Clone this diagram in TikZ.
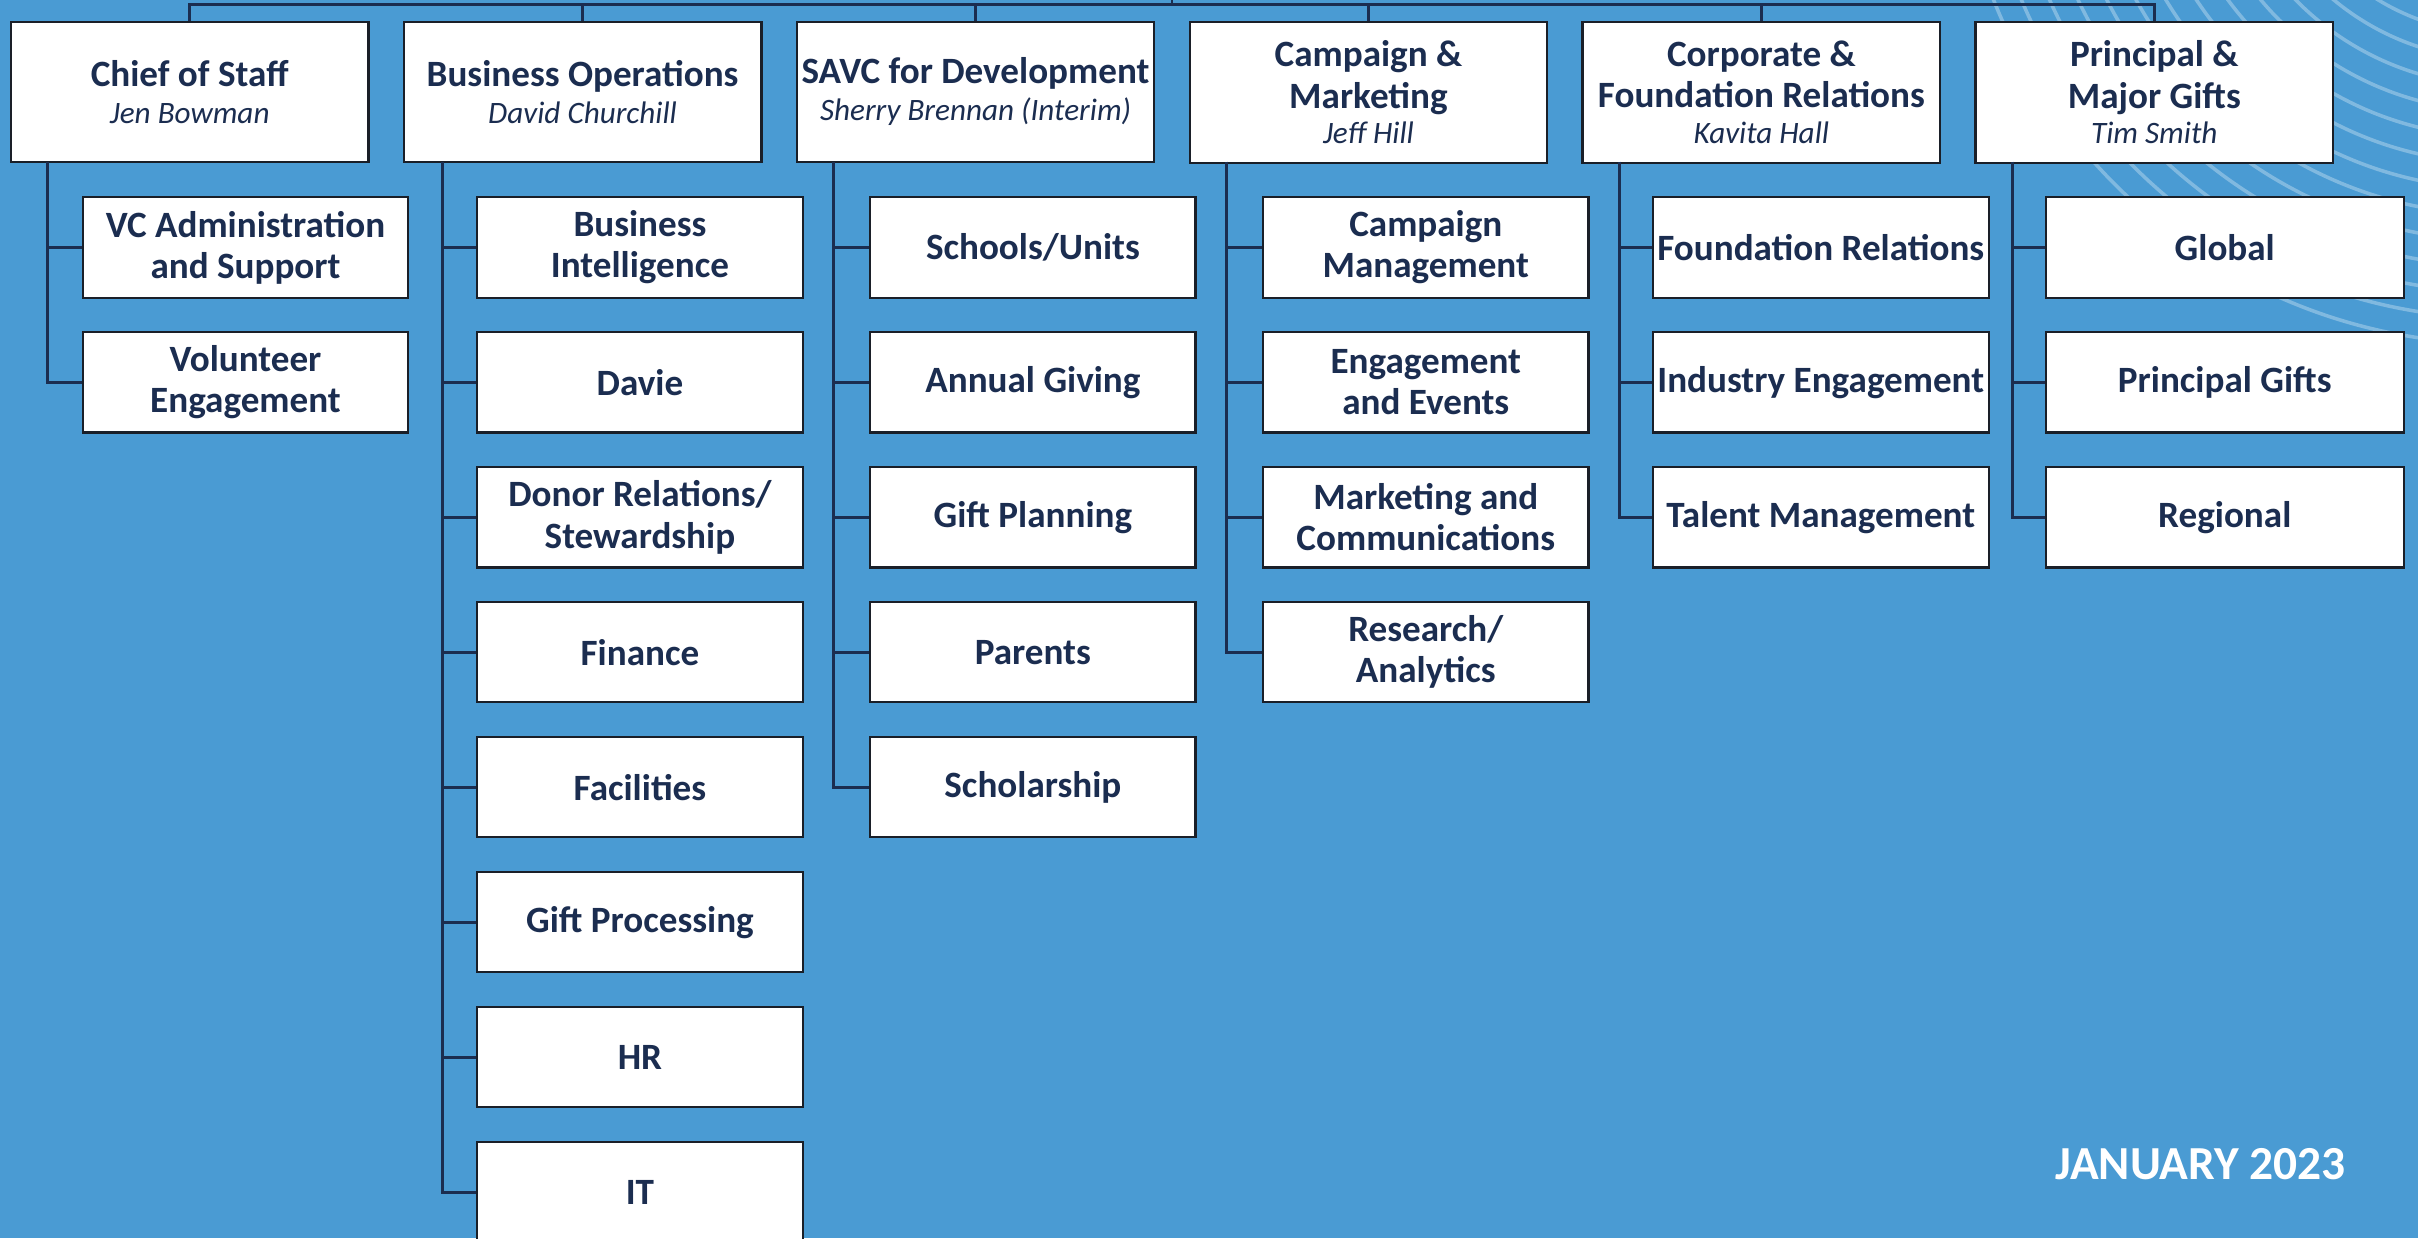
\documentclass[tikz,border=0pt]{standalone}
\usepackage{fontspec}
\setmainfont{Carlito}
\definecolor{bg}{HTML}{4A9BD3}
\definecolor{navy}{HTML}{1B2D50}
\definecolor{boxline}{HTML}{1A1F28}
\newcommand\pname[1]{{\fontsize{11.5}{14}\selectfont\mdseries\itshape #1}}
\tikzset{
  head/.style={draw=boxline, line width=0.8pt, fill=white, minimum width=4.64cm, minimum height=1.82cm,
    inner sep=0pt, align=center, text=navy, font=\fontsize{13.7}{15.2}\selectfont\bfseries},
  unit/.style={draw=boxline, line width=0.8pt, fill=white, minimum width=4.22cm, minimum height=1.30cm,
    inner sep=0pt, align=center, text=navy, anchor=west, font=\fontsize{13.7}{15.2}\selectfont\bfseries},
  conn/.style={draw=navy, line width=1.1pt},
  arc/.style={draw=white, opacity=0.3, line width=1.3pt}
}
\begin{document}
\begin{tikzpicture}[x=0.02cm, y=-0.02cm]
\fill[bg] (0,0) rectangle (1568,803);
\useasboundingbox (0,0) rectangle (1568,803);
% decorative arcs
\begin{scope}
  \clip (0,0) rectangle (1568,803);
  \foreach \i in {0,...,12}
    \draw[arc] (1621,-130) circle[radius={3.04cm+0.335cm*\i}];
\end{scope}
% heads
\node[head] (h1) at (123,59.5) {Chief of Staff\\[-1.5pt]\pname{Jen Bowman}};
\node[head] (h2) at (377.8,59.5) {Business Operations\\[-1.5pt]\pname{David Churchill}};
\node[head] (h3) at (632.6,59.5) {SAVC for Development\\[-1.5pt]\pname{Sherry Brennan (Interim)}};
\node[head] (h4) at (887.4,60) {Campaign \&\\Marketing\\[-2pt]\pname{Jeff Hill}};
\node[head] (h5) at (1142.2,60) {Corporate \&\\Foundation Relations\\[-2pt]\pname{Kavita Hall}};
\node[head] (h6) at (1397,60) {Principal \&\\Major Gifts\\[-2pt]\pname{Tim Smith}};
% top bus
\coordinate (bus) at (760,3);
\coordinate (up) at (760,-5);
\draw[conn] (h1.north) |- (h6.north |- bus) -- (h6.north);
\foreach \h in {h2,h3,h4,h5} \draw[conn] (\h.north) -- (\h.north |- bus);
\draw[conn] (bus) -- (up);
% branch points
\coordinate (b1) at (31,105);
\coordinate (b2) at (286.8,105);
\coordinate (b3) at (540.6,105);
\coordinate (b4) at (795.4,105);
\coordinate (b5) at (1050.2,105);
\coordinate (b6) at (1305,105);
% Chief of Staff
\node[unit] (c11) at (53,160.5) {VC Administration\\and Support};
\node[unit] (c12) at (53,248) {Volunteer\\Engagement};
% Business Operations
\node[unit] (c21) at (308.8,160.5) {Business\\Intelligence};
\node[unit] (c22) at (308.8,248) {Davie};
\node[unit] (c23) at (308.8,335.5) {Donor Relations/\\Stewardship};
\node[unit] (c24) at (308.8,423) {Finance};
\node[unit] (c25) at (308.8,510.5) {Facilities};
\node[unit] (c26) at (308.8,598) {Gift Processing};
\node[unit] (c27) at (308.8,685.5) {HR};
\node[unit] (c28) at (308.8,773) {IT};
% SAVC
\node[unit] (c31) at (563.6,160.5) {Schools/Units};
\node[unit] (c32) at (563.6,248) {Annual Giving};
\node[unit] (c33) at (563.6,335.5) {Gift Planning};
\node[unit] (c34) at (563.6,423) {Parents};
\node[unit] (c35) at (563.6,510.5) {Scholarship};
% Campaign
\node[unit] (c41) at (818.4,160.5) {Campaign\\Management};
\node[unit] (c42) at (818.4,248) {Engagement\\and Events};
\node[unit] (c43) at (818.4,335.5) {Marketing and\\Communications};
\node[unit] (c44) at (818.4,423) {Research/\\Analytics};
% Corporate
\node[unit, minimum width=4.36cm] (c51) at (1071,160.5) {Foundation Relations};
\node[unit, minimum width=4.36cm] (c52) at (1071,248) {Industry Engagement};
\node[unit, minimum width=4.36cm] (c53) at (1071,335.5) {Talent Management};
% Principal
\node[unit, minimum width=4.64cm] (c61) at (1326,160.5) {Global};
\node[unit, minimum width=4.64cm] (c62) at (1326,248) {Principal Gifts};
\node[unit, minimum width=4.64cm] (c63) at (1326,335.5) {Regional};
% connectors
\foreach \c in {c11,c12} \draw[conn] (b1) |- (\c.west);
\foreach \c in {c21,c22,c23,c24,c25,c26,c27,c28} \draw[conn] (b2) |- (\c.west);
\foreach \c in {c31,c32,c33,c34,c35} \draw[conn] (b3) |- (\c.west);
\foreach \c in {c41,c42,c43,c44} \draw[conn] (b4) |- (\c.west);
\foreach \c in {c51,c52,c53} \draw[conn] (b5) |- (\c.west);
\foreach \c in {c61,c62,c63} \draw[conn] (b6) |- (\c.west);
% date
\node[font=\fontsize{17.5}{20}\selectfont\bfseries, text=white] (date) at (1427,755) {JANUARY 2023};
\end{tikzpicture}
\end{document}
